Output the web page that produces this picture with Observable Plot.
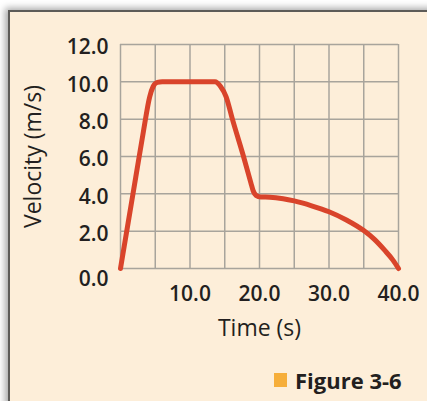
<!DOCTYPE html>
<html>
<head>
<meta charset="utf-8">
<script src="https://cdn.jsdelivr.net/npm/d3@7"></script>
<script src="https://cdn.jsdelivr.net/npm/@observablehq/plot@0.6"></script>
<style>
  html, body { margin: 0; padding: 0; background: #ffffff; }
  body { width: 427px; height: 401px; position: relative; overflow: hidden; font-family: "Open Sans", sans-serif; }
  #card { position: absolute; left: 8px; top: 10px; width: 440px; height: 420px;
    background: #fdeed9; border-left: 2px solid #5d5b58; border-top: 2px solid #5d5b58;
    box-shadow: -3px -2px 7px rgba(0,0,0,0.35); }
  #chart { position: absolute; left: 0; top: 0; }
  #caption { position: absolute; left: 274px; top: 365px; font-weight: 700; font-size: 22px; color: #231f20; white-space: nowrap; display: flex; align-items: center; }
  #caption .sq { display: inline-block; width: 13px; height: 14px; background: #f6ae3a; margin-right: 8px; }
</style>
</head>
<body>
<div id="card"></div>
<div id="chart"></div>
<div id="caption"><span class="sq"></span><span>Figure 3-6</span></div>
<script>
// Data (time in s, velocity in m/s)
const times      = [0, 1.1, 2.2, 3.3, 4.2, 4.7, 5.3, 6.0, 13.6, 14.4, 15.2, 16.1, 17.7, 18.75, 19.1, 19.5, 20.2, 21.5, 23.4, 25.0, 27.5, 30.0, 32.5, 35.0, 36.5, 38.0, 39.2, 40.0];
const velocities = [0, 2.45, 4.9, 7.35, 9.2, 9.75, 9.97, 10.0, 10.0, 9.75, 9.2, 8.0, 6.0, 4.6, 4.15, 3.92, 3.83, 3.82, 3.74, 3.62, 3.36, 3.04, 2.6, 2.03, 1.57, 0.98, 0.45, 0];
const xTickValues = [10, 20, 30, 40];
const yTickValues = [2, 4, 6, 8, 10, 12];
const yZeroTick = [0];
const xGridValues = [0, 5, 10, 15, 20, 25, 30, 35, 40];
const yGridValues = [0, 2, 4, 6, 8, 10, 12];
const xTitle = "Time (s)";
const yTitle = "Velocity (m/s)";

const data = times.map((t, i) => ({t, v: velocities[i]}));
const fmt = d => d.toFixed(1);

const chart = Plot.plot({
  width: 427,
  height: 345,
  marginLeft: 120,
  marginRight: 29,
  marginTop: 44,
  marginBottom: 77,
  style: {background: "transparent", fontFamily: "'Open Sans', sans-serif", color: "#231f20", overflow: "visible"},
  x: {domain: [0, 40]},
  y: {domain: [0, 12]},
  marks: [
    Plot.ruleX(xGridValues, {stroke: "#a8a49c", strokeWidth: 1.5}),
    Plot.ruleY(yGridValues, {stroke: "#a8a49c", strokeWidth: 1.5}),
    Plot.line(data, {x: "t", y: "v", stroke: "#d9442b", strokeWidth: 5, curve: "monotone-x", strokeLinejoin: "round", strokeLinecap: "round"}),
    Plot.axisX(xTickValues, {tickSize: 0, tickPadding: 18, tickFormat: fmt, fontSize: 21, fontWeight: 600, label: null}),
    Plot.axisY(yTickValues, {tickSize: 0, tickPadding: 12, tickFormat: fmt, fontSize: 21, fontWeight: 600, dy: 3, label: null}),
    Plot.text(yZeroTick, {y: d => d, frameAnchor: "left", dx: -12, dy: 11, textAnchor: "end", text: fmt, fontSize: 21, fontWeight: 600, fill: "#231f20"}),
    Plot.text([yTitle], {frameAnchor: "left", dx: -87, rotate: -90, textAnchor: "middle", lineAnchor: "middle", fontSize: 23, fill: "#231f20"}),
    Plot.text([xTitle], {frameAnchor: "bottom", dy: 60, textAnchor: "middle", lineAnchor: "middle", fontSize: 23, fill: "#231f20"})
  ]
});
document.getElementById("chart").appendChild(chart);
</script>
</body>
</html>
